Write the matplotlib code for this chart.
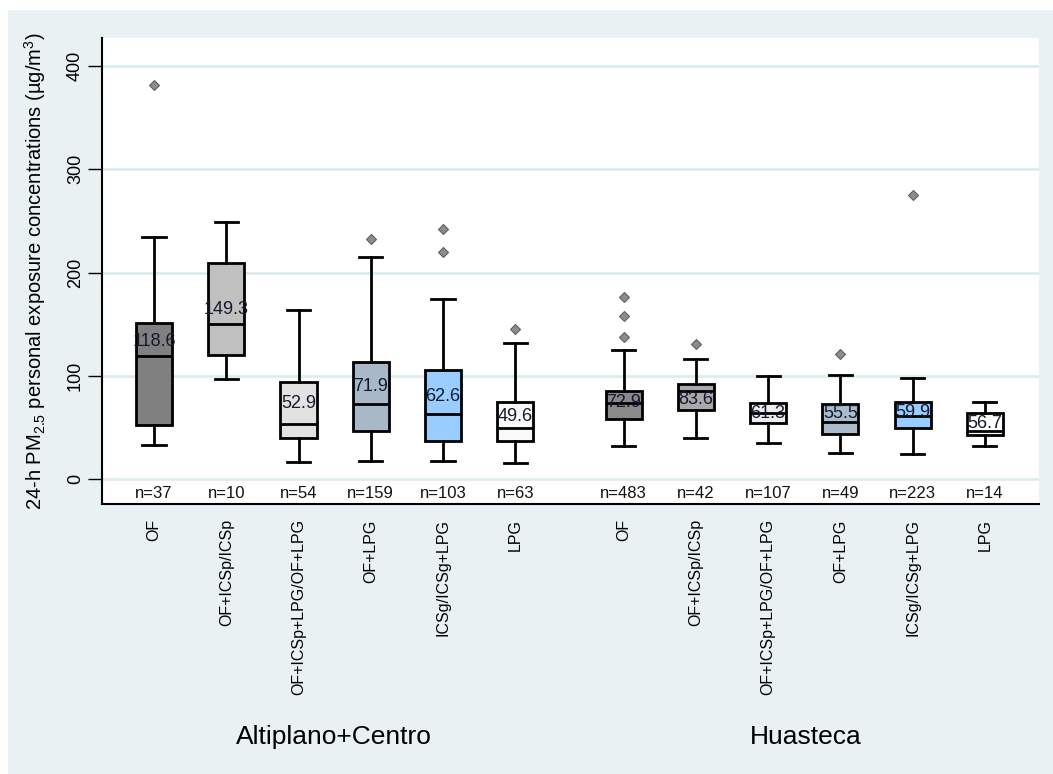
import matplotlib
matplotlib.use("Agg")
import matplotlib.pyplot as plt
from matplotlib import font_manager
from matplotlib.patches import Rectangle

# categories and group names
categories = ["OF", "OF+ICSp/ICSp", "OF+ICSp+LPG/OF+LPG", "OF+LPG", "ICSg/ICSg+LPG", "LPG"] * 2
regions = ["Altiplano+Centro", "Huasteca"]

# box statistics
whislo = [33.5, 96.8, 16.8, 18.0, 18.0, 16.0, 32.6, 39.4, 34.8, 25.5, 24.2, 32.6]
q1 = [52.0, 120.0, 40.3, 46.5, 37.0, 37.0, 58.7, 67.4, 54.5, 44.2, 49.7, 42.6]
med = [119.0, 150.3, 53.9, 72.8, 63.0, 50.0, 74.2, 85.5, 64.2, 54.9, 61.0, 46.5]
q3 = [151.6, 209.0, 94.5, 113.3, 106.0, 74.5, 85.2, 91.9, 73.9, 72.3, 74.8, 64.5]
whishi = [234.0, 248.7, 164.0, 215.0, 174.0, 132.0, 124.8, 116.5, 100.0, 101.3, 98.0, 74.8]
outliers = [[381.6], [], [], [232.9], [242.6, 220.0], [145.0],
            [176.5, 158.4, 138.0], [131.0], [], [121.0], [274.8], []]
n_obs = [37, 10, 54, 159, 103, 63, 483, 42, 107, 49, 223, 14]
med_text = ["118.6", "149.3", "52.9", "71.9", "62.6", "49.6",
            "72.9", "83.6", "61.3", "55.5", "59.9", "56.7"]
med_text_y = [133.5, 164, 73, 90, 80, 61, 74, 77, 64, 63.6, 65, 54]
fills = ["#808080", "#c0c0c0", "#e2e2e2", "#a9b8c8", "#99ccff", "#f7f9fb",
         "#8a8a8a", "#a9a9a9", "#eeeeee", "#aabbcc", "#99ccff", "#ffffff"]

installed = {f.name for f in font_manager.fontManager.ttflist}
narrow = "Liberation Sans Narrow" if "Liberation Sans Narrow" in installed else "Liberation Sans"

plt.rcParams["font.family"] = ["Liberation Sans", "DejaVu Sans"]
plt.rcParams["mathtext.fontset"] = "custom"
plt.rcParams["mathtext.rm"] = "Liberation Sans"
plt.rcParams["mathtext.it"] = "Liberation Sans:italic"

pos = [i if i < 6 else i + 0.5 for i in range(12)]

fig = plt.figure(figsize=(10.53, 7.74), dpi=100, facecolor="white")
fig.patches.append(Rectangle((8 / 1053, 0), 1 - 8 / 1053, 1 - 10 / 774,
                             transform=fig.transFigure, facecolor="#e9f1f3",
                             edgecolor="none", zorder=-10))
ax = fig.add_axes([102 / 1053, 1 - 504 / 774, (1039 - 102) / 1053, (504 - 38) / 774])
ax.set_facecolor("white")

stats = []
for i in range(12):
    stats.append({"whislo": whislo[i], "q1": q1[i], "med": med[i], "q3": q3[i],
                  "whishi": whishi[i], "fliers": outliers[i]})

bp = ax.bxp(stats, positions=pos, widths=0.5, patch_artist=True, showfliers=True,
            boxprops=dict(edgecolor="black", linewidth=2),
            medianprops=dict(color="black", linewidth=2),
            whiskerprops=dict(color="black", linewidth=2),
            capprops=dict(color="black", linewidth=2),
            capwidths=0.32,
            flierprops=dict(marker="D", markersize=5, markerfacecolor="#8c8c8c",
                            markeredgecolor="#606060", markeredgewidth=0.8))
for patch, c in zip(bp["boxes"], fills):
    patch.set_facecolor(c)

for p, t, y in zip(pos, med_text, med_text_y):
    ax.text(p, y, t, ha="center", va="center", fontsize=13, family=narrow,
            color="#15192e", zorder=5)

for p, n in zip(pos, n_obs):
    ax.text(p, -13.5, "n={}".format(n), ha="center", va="center", fontsize=12,
            family=narrow, color="#111111")

ax.set_xlim(-0.72, 12.25)
ax.set_ylim(-24, 427)
ax.set_yticks([0, 100, 200, 300, 400])
ax.set_yticklabels(["0", "100", "200", "300", "400"], rotation=90, va="center", fontsize=13)
ax.tick_params(axis="y", length=10, width=1, pad=3)
ax.grid(axis="y", color="#dcecef", linewidth=2)
ax.set_axisbelow(True)

ax.set_xticks(pos)
ax.set_xticklabels(categories, rotation=90, fontsize=11.5, va="top")
ax.tick_params(axis="x", length=0, pad=11)

for s in ["top", "right"]:
    ax.spines[s].set_visible(False)
ax.spines["left"].set_linewidth(1.5)
ax.spines["bottom"].set_linewidth(1.5)

ax.set_ylabel(r"24-h PM$_{2.5}$ personal exposure concentrations (µg/m$^{3}$)", fontsize=14.5)
ax.yaxis.set_label_coords(-0.058, 0.5)

fig.text(334 / 1053, 1 - 737 / 774, regions[0], ha="center", va="center",
         fontsize=19, family=narrow)
fig.text(806 / 1053, 1 - 737 / 774, regions[1], ha="center", va="center",
         fontsize=19, family=narrow)

fig.savefig("out.png", dpi=100, facecolor=fig.get_facecolor())
